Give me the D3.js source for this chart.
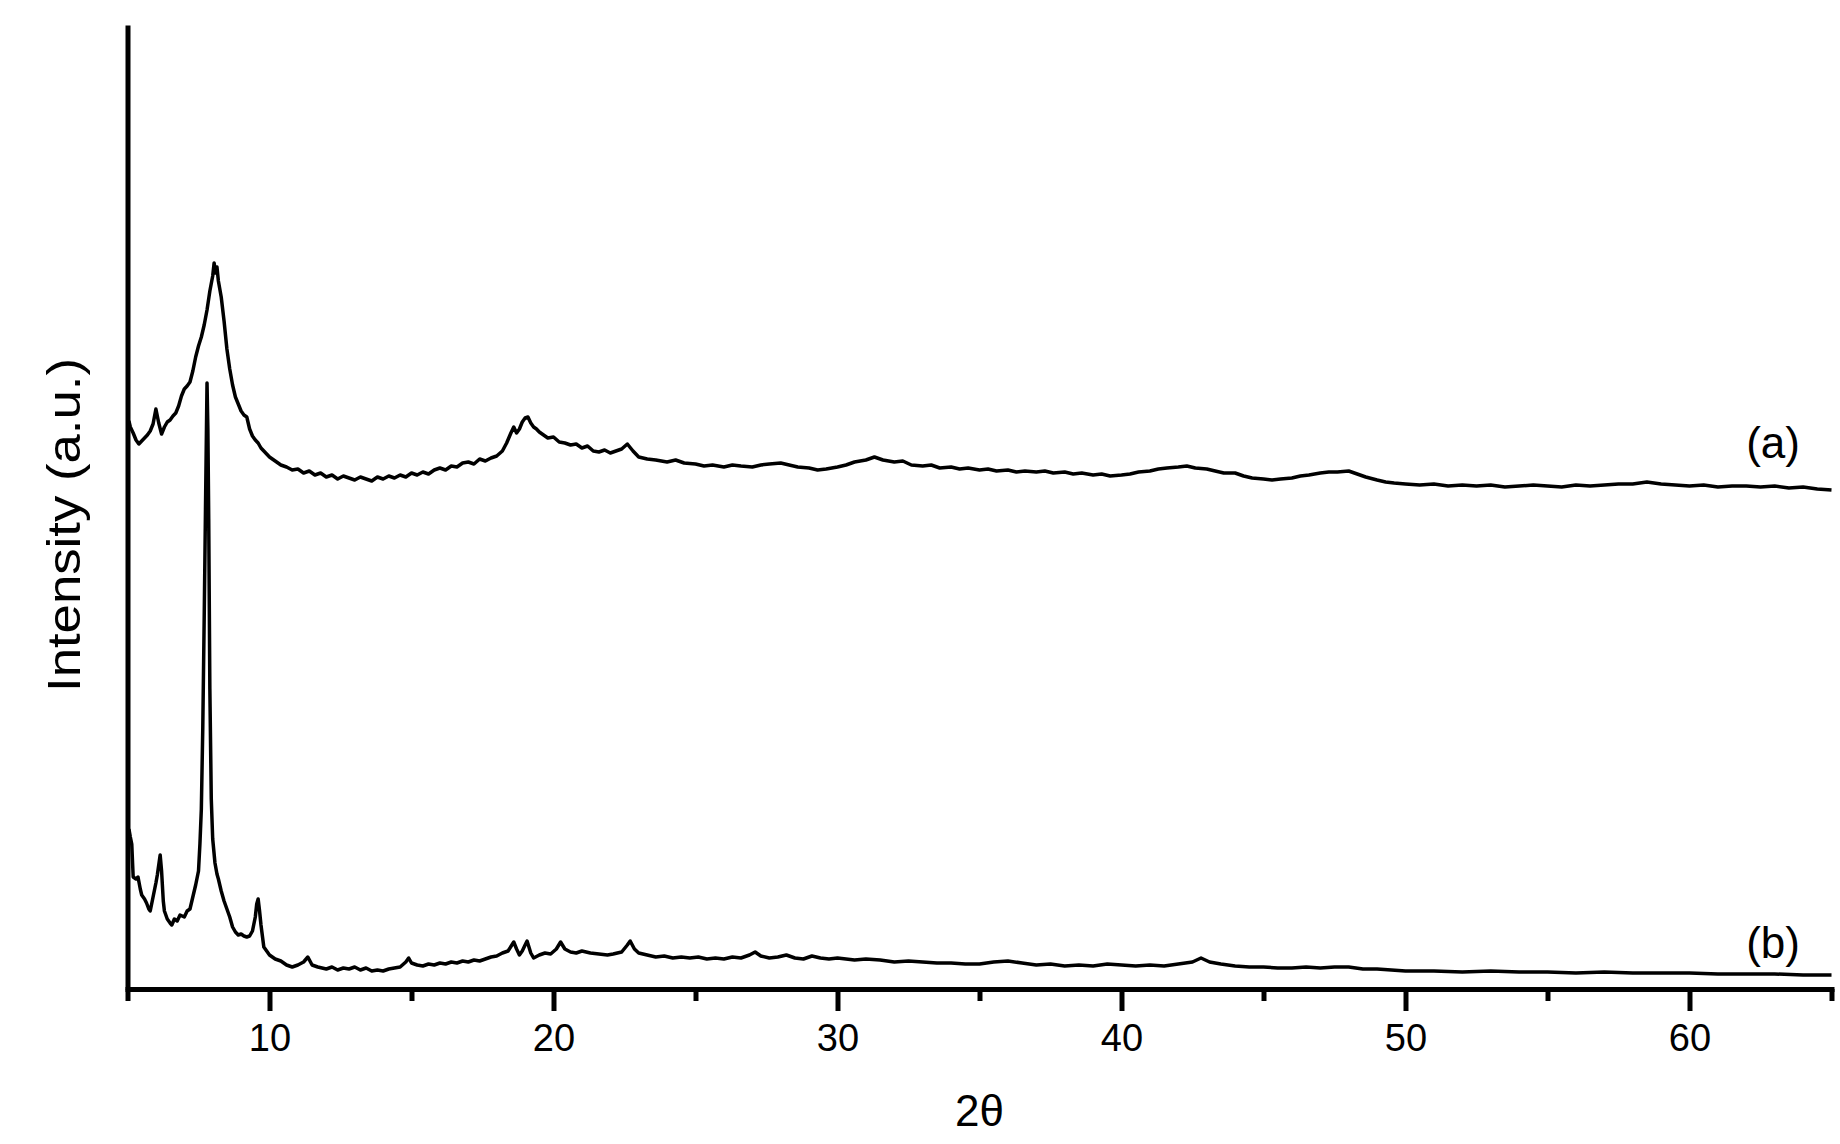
<!DOCTYPE html>
<html>
<head>
<meta charset="utf-8">
<script src="https://d3js.org/d3.v7.min.js"></script>
<style>
  body { margin: 0; background: #fff; }
  text { font-family: "Liberation Sans", Arial, sans-serif; fill: #000; }
</style>
</head>
<body>
<div id="chart"></div>
<script>
// XRD patterns, 2-theta (deg) vs intensity (a.u.)
var thetaA = [5.05,5.1,5.2,5.3,5.4,5.5,5.6,5.7,5.8,5.9,6.0,6.1,6.2,6.3,6.4,6.5,6.6,6.7,6.8,6.9,
  7.0,7.1,7.2,7.3,7.4,7.5,7.6,7.7,7.8,7.9,8.0,8.05,8.1,8.15,8.2,8.3,8.4,8.5,8.6,8.7,8.8,8.9,
  9.0,9.1,9.2,9.3,9.4,9.5,9.6,9.7,9.8,9.9,10.0,10.2,10.4,10.6,10.8,11.0,11.2,11.4,11.6,11.8,
  12.0,12.2,12.4,12.6,12.8,13.0,13.2,13.4,13.6,13.8,14.0,14.2,14.4,14.6,14.8,15.0,15.2,15.4,
  15.6,15.8,16.0,16.2,16.4,16.6,16.8,17.0,17.2,17.4,17.6,17.8,18.0,18.2,18.35,18.5,18.6,18.7,
  18.8,18.9,19.0,19.1,19.2,19.3,19.4,19.5,19.6,19.8,20.0,20.2,20.4,20.6,20.8,21.0,21.2,21.4,
  21.6,21.8,22.0,22.2,22.4,22.6,22.8,23.0,23.3,23.6,24.0,24.3,24.6,25.0,25.3,25.6,26.0,26.3,
  26.6,27.0,27.3,27.6,28.0,28.3,28.6,29.0,29.3,29.6,30.0,30.3,30.6,31.0,31.3,31.6,32.0,32.3,
  32.6,33.0,33.3,33.6,34.0,34.3,34.6,35.0,35.3,35.6,36.0,36.3,36.6,37.0,37.3,37.6,38.0,38.3,
  38.6,39.0,39.3,39.6,40.0,40.3,40.6,41.0,41.3,41.6,42.0,42.3,42.6,43.0,43.3,43.6,44.0,44.3,
  44.6,45.0,45.3,45.6,46.0,46.3,46.6,47.0,47.3,47.6,48.0,48.3,48.6,49.0,49.3,49.6,50.0,50.5,
  51.0,51.5,52.0,52.5,53.0,53.5,54.0,54.5,55.0,55.5,56.0,56.5,57.0,57.5,58.0,58.5,59.0,59.5,
  60.0,60.5,61.0,61.5,62.0,62.5,63.0,63.5,64.0,64.5,65.0];
var intensA = [568,562,556,549,545,548,551,554,558,565,580,566,555,562,567,569,573,576,583,593,
  600,603,607,618,632,643,652,664,679,698,713,726,716,722,708,692,668,640,620,604,592,585,
  578,574,572,560,553,549,546,541,538,535,532,528,524,522,519,520,516,518,514,516,
  512,514,510,513,511,509,512,510,508,512,510,513,511,514,512,516,514,517,
  515,519,521,519,523,522,526,527,525,530,528,531,533,538,546,556,562,556,
  560,567,571,572,566,562,560,557,555,551,552,547,546,544,545,541,543,538,
  537,539,536,538,540,545,538,532,530,529,527,529,526,525,523,524,522,524,
  523,522,524,525,526,524,522,521,519,520,522,524,527,529,532,529,527,528,
  524,523,524,521,522,520,521,519,520,518,519,517,518,517,518,516,517,515,
  516,514,515,513,514,515,517,518,520,521,522,523,521,520,518,516,516,513,
  511,510,509,510,511,513,514,516,517,517,518,515,512,509,507,506,505,504,
  505,503,504,503,504,502,503,504,503,502,504,503,504,505,505,507,505,504,
  503,504,502,503,503,502,503,501,502,500,499];

var thetaB = [5.05,5.1,5.15,5.2,5.3,5.37,5.45,5.5,5.6,5.67,5.75,5.8,5.9,6.0,6.05,6.1,6.15,6.2,
  6.26,6.3,6.4,6.5,6.56,6.65,6.75,6.85,7.0,7.1,7.2,7.3,7.4,7.5,7.55,7.6,7.65,7.7,7.75,7.8,
  7.83,7.86,7.9,7.95,8.0,8.08,8.15,8.2,8.3,8.4,8.5,8.6,8.7,8.8,8.9,9.0,9.1,9.2,9.3,9.4,9.5,
  9.55,9.6,9.65,9.7,9.8,9.9,10.0,10.2,10.4,10.6,10.8,11.0,11.2,11.35,11.5,11.7,12.0,12.2,
  12.4,12.6,12.8,13.0,13.2,13.4,13.6,13.8,14.0,14.2,14.4,14.6,14.8,14.9,15.0,15.2,15.4,15.6,
  15.8,16.0,16.2,16.4,16.6,16.8,17.0,17.2,17.4,17.6,17.8,18.0,18.2,18.4,18.6,18.7,18.8,18.9,
  19.0,19.07,19.2,19.3,19.5,19.7,19.9,20.1,20.25,20.4,20.6,20.8,21.0,21.3,21.6,21.9,22.1,
  22.4,22.6,22.7,22.85,23.0,23.3,23.6,23.9,24.2,24.5,24.8,25.1,25.4,25.7,26.0,26.3,26.6,26.9,
  27.1,27.3,27.6,27.9,28.2,28.5,28.8,29.1,29.4,29.7,30.0,30.3,30.6,31.0,31.5,32.0,32.5,33.0,
  33.5,34.0,34.5,35.0,35.5,36.0,36.5,37.0,37.5,38.0,38.5,39.0,39.5,40.0,40.5,41.0,41.5,42.0,
  42.5,42.8,43.1,43.5,44.0,44.5,45.0,45.5,46.0,46.5,47.0,47.5,48.0,48.5,49.0,49.5,50,51,52,
  53,54,55,56,57,58,59,60,61,62,63,64,65];
var intensB = [160,152,145,112,110,112,100,94,90,86,80,78,92,106,114,124,134,118,
  88,78,70,66,64,70,68,74,72,78,80,92,104,118,145,180,260,370,490,606,
  560,470,300,190,150,126,115,110,98,88,80,72,62,57,54,55,53,52,53,58,72,
  85,90,78,64,42,38,34,30,28,24,22,24,27,32,24,22,20,22,
  19,21,20,22,19,21,18,19,18,20,21,22,27,31,26,24,23,25,
  24,26,25,27,26,28,27,29,28,30,32,33,36,38,47,40,34,38,
  44,48,36,31,34,36,35,40,47,40,37,36,38,36,35,34,35,
  37,44,48,40,36,34,32,33,31,32,31,32,30,31,30,32,31,34,
  37,33,31,32,34,31,30,33,31,30,31,30,29,30,29,27,28,27,
  26,26,25,25,27,28,26,24,25,23,24,23,25,24,23,24,23,25,
  27,31,27,25,23,22,22,21,21,22,21,22,22,20,20,19,18,18,17,
  18,17,17,16,17,16,16,16,15,15,15,14,14];

var majorTicks = [10, 20, 30, 40, 50, 60];
var minorTicks = [5, 15, 25, 35, 45, 55, 65];
var curveLabels = ["(a)", "(b)"];

var W = 1840, H = 1144;
var x0 = 127.5, x1 = 1831.5, yBase = 989, yTop = 25;

var svg = d3.select("#chart").append("svg")
  .attr("width", W).attr("height", H);

var x = d3.scaleLinear().domain([5, 65]).range([x0, x1]);
var y = d3.scaleLinear().domain([0, 964]).range([yBase, yTop]);

var line = d3.line()
  .x(function (d) { return x(d[0]); })
  .y(function (d) { return y(d[1]); });

var seriesA = thetaA.map(function (t, i) { return [t, intensA[i]]; });
var seriesB = thetaB.map(function (t, i) { return [t, intensB[i]]; });

svg.selectAll(".trace")
  .data([seriesA, seriesB])
  .enter().append("path")
  .attr("class", "trace")
  .attr("d", line)
  .attr("fill", "none")
  .attr("stroke", "#000")
  .attr("stroke-width", 3.5)
  .attr("stroke-linejoin", "round");

// minor ticks
svg.append("g")
  .attr("transform", "translate(0," + yBase + ")")
  .call(d3.axisBottom(x).tickValues(minorTicks).tickSize(12).tickSizeOuter(0).tickFormat(""))
  .call(function (g) { g.select(".domain").remove(); })
  .selectAll("line").attr("stroke-width", 5);

// x axis with major ticks
var xAxis = svg.append("g")
  .attr("transform", "translate(0," + yBase + ")")
  .call(d3.axisBottom(x).tickValues(majorTicks).tickSize(22).tickSizeOuter(0));
xAxis.select(".domain").attr("stroke-width", 5).attr("stroke-linecap", "square");
xAxis.selectAll(".tick line").attr("stroke-width", 5);
xAxis.selectAll(".tick text")
  .attr("y", 62).attr("dy", null)
  .style("font-size", "38px")
  .style("font-family", "'Liberation Sans', Arial, sans-serif");

// y axis, no ticks
var yAxis = svg.append("g")
  .attr("transform", "translate(" + x0 + ",0)")
  .call(d3.axisLeft(y).tickValues([]).tickSizeOuter(0));
yAxis.select(".domain").attr("stroke-width", 5);

// series labels
svg.selectAll(".lab")
  .data(curveLabels)
  .enter().append("text")
  .attr("class", "lab")
  .attr("x", 1800)
  .attr("y", function (d, i) { return i === 0 ? 458 : 958; })
  .attr("text-anchor", "end")
  .style("font-size", "44px")
  .text(function (d) { return d; });

svg.append("text")
  .attr("transform", "translate(80,525) rotate(-90)")
  .attr("text-anchor", "middle")
  .attr("textLength", 334)
  .attr("lengthAdjust", "spacingAndGlyphs")
  .style("font-size", "46px")
  .text("Intensity (a.u.)");

svg.append("text")
  .attr("x", (x0 + x1) / 2)
  .attr("y", 1126)
  .attr("text-anchor", "middle")
  .style("font-size", "44px")
  .text("2θ");
</script>
</body>
</html>
